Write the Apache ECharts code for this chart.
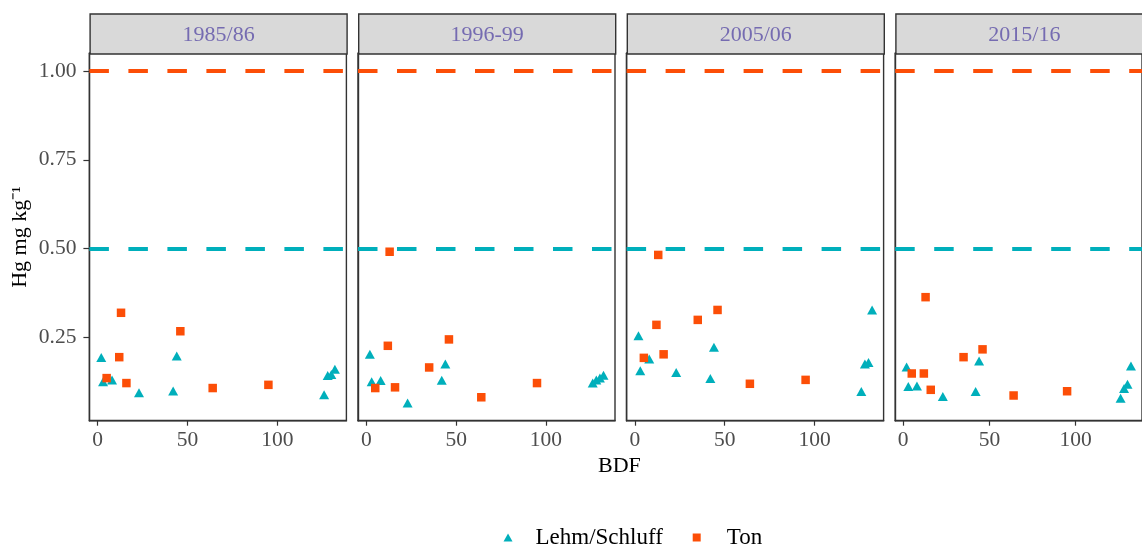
<!DOCTYPE html>
<html>
<head>
<meta charset="utf-8">
<script src="https://cdn.jsdelivr.net/npm/echarts@6/dist/echarts.min.js"></script>
<style>
  html, body { margin: 0; padding: 0; background: #ffffff; }
  #chart { width: 1142px; height: 548px; }
</style>
</head>
<body>
<div id="chart"></div>
<script>
// Sampling periods (one facet each)
const periods = ['1985/86', '1996-99', '2005/06', '2015/16'];

// BDF site numbers per soil texture group
const lehmSites = [2, 3, 8, 23, 42, 44, 126, 128, 130, 132];
const tonSites  = [5, 12, 13, 16, 35, 46, 64, 95];

// Hg contents (mg/kg), Lehm/Schluff sites
const lehmHg1985 = [0.193, 0.125, 0.130, 0.094, 0.099, 0.197, 0.088, 0.142, 0.145, 0.160];
const lehmHg1996 = [0.202, 0.125, 0.128, 0.065, 0.129, 0.175, 0.121, 0.130, 0.135, 0.143];
const lehmHg2005 = [0.254, 0.156, 0.189, 0.151, 0.134, 0.222, 0.097, 0.175, 0.179, 0.327];
const lehmHg2015 = [0.166, 0.111, 0.113, 0.083, 0.097, 0.183, 0.078, 0.106, 0.118, 0.169];

// Hg contents (mg/kg), Ton sites (null = no sample)
const tonHg1985 = [0.135, 0.194, 0.319, 0.121, null, 0.267, 0.107, 0.116];
const tonHg1996 = [0.107, 0.226, 0.491, 0.109, 0.165, 0.244, 0.081, 0.121];
const tonHg2005 = [0.192, 0.285, 0.482, 0.202, 0.299, 0.327, 0.119, 0.130];
const tonHg2015 = [0.148, 0.148, 0.363, 0.102, 0.194, 0.216, 0.086, 0.098];

// Precautionary values (Vorsorgewerte) per texture group
const limitTon  = 1.0;
const limitLehm = 0.5;

// Axis ticks
const xTicks = [0, 50, 100];
const yTicks = [0.25, 0.5, 0.75, 1.0];

const lehmByPeriod = [lehmHg1985, lehmHg1996, lehmHg2005, lehmHg2015];
const tonByPeriod  = [tonHg1985, tonHg1996, tonHg2005, tonHg2015];

// Styling / layout
const FONT = '"Liberation Serif", "Times New Roman", serif';
const COL_LEHM = '#00AFBB';
const COL_TON  = '#FC4E07';
const BORDER = '#333333';
const panelX = [89.4, 358.0, 626.6, 895.2];
const PANEL_W = 257;
const PANEL_TOP = 53.3;
const PANEL_H = 367.4;
const STRIP_TOP = 13.3;
const STRIP_H = 40;

const pairs = (xs, ys) => xs.map((x, i) => [x, ys[i]]).filter(p => p[1] != null);

const grid = [], xAxis = [], yAxis = [], series = [], graphic = [];

periods.forEach((p, i) => {
  grid.push({
    left: panelX[i], top: PANEL_TOP, width: PANEL_W, height: PANEL_H,
    show: true, borderColor: BORDER, borderWidth: 1.4, backgroundColor: '#ffffff',
    containLabel: false
  });
  xAxis.push({
    type: 'value', gridIndex: i, min: -4.6, max: 138.4,
    splitLine: { show: false },
    axisLine: { show: true, onZero: false, lineStyle: { color: BORDER, width: 1.4 } },
    axisTick: { show: true, customValues: xTicks, length: 5, lineStyle: { color: BORDER, width: 1.2 } },
    axisLabel: { show: true, customValues: xTicks, margin: 9, color: '#4D4D4D',
                 fontFamily: FONT, fontSize: 21.5 }
  });
  yAxis.push({
    type: 'value', gridIndex: i, min: 0.015, max: 1.05,
    splitLine: { show: false },
    axisLine: { show: true, onZero: false, lineStyle: { color: BORDER, width: 1.4 } },
    axisTick: { show: i === 0, customValues: yTicks, length: 6, lineStyle: { color: BORDER, width: 1.2 } },
    axisLabel: { show: i === 0, customValues: yTicks, margin: 13, color: '#4D4D4D',
                 fontFamily: FONT, fontSize: 21.5,
                 formatter: v => v.toFixed(2) },
    name: i === 0 ? 'Hg mg kg\u207B\u00B9' : '',
    nameLocation: 'middle', nameGap: 58, nameRotate: 90,
    nameTextStyle: { color: '#000000', fontFamily: FONT, fontSize: 22 }
  });

  series.push({
    name: 'Lehm/Schluff', type: 'scatter', xAxisIndex: i, yAxisIndex: i,
    symbol: 'triangle', symbolSize: [10, 9],
    itemStyle: { color: COL_LEHM, opacity: 1 },
    data: pairs(lehmSites, lehmByPeriod[i]),
    markLine: {
      silent: true, symbol: 'none', animation: false,
      label: { show: false },
      data: [
        { yAxis: limitTon,  lineStyle: { color: COL_TON,  width: 4.2, type: [19.5, 19.5] } },
        { yAxis: limitLehm, lineStyle: { color: COL_LEHM, width: 4.2, type: [19.5, 19.5] } }
      ]
    },
    z: 3
  });
  series.push({
    name: 'Ton', type: 'scatter', xAxisIndex: i, yAxisIndex: i,
    symbol: 'rect', symbolSize: 8.5,
    itemStyle: { color: COL_TON, opacity: 1 },
    data: pairs(tonSites, tonByPeriod[i]),
    z: 4
  });

  // facet strip
  graphic.push({
    type: 'group', left: panelX[i], top: STRIP_TOP,
    children: [
      { type: 'rect', shape: { x: 0, y: 0, width: PANEL_W, height: STRIP_H },
        style: { fill: '#D9D9D9', stroke: BORDER, lineWidth: 1.4 } },
      { type: 'text', x: PANEL_W / 2, y: STRIP_H / 2 + 1,
        style: { text: p, fill: '#756BB1', font: '22px ' + FONT,
                 textAlign: 'center', textVerticalAlign: 'middle' } }
    ]
  });
});

// shared x-axis title
graphic.push({
  type: 'text', left: 598, top: 455,
  style: { text: 'BDF', fill: '#000000', font: '22px ' + FONT }
});

const legendText = (gap) => ({
  color: '#000000', fontFamily: FONT, fontSize: 23, lineHeight: 24, padding: [8, 0, 0, gap]
});

const option = {
  animation: false,
  backgroundColor: '#ffffff',
  grid, xAxis, yAxis, series, graphic,
  legend: [
    { data: [{ name: 'Lehm/Schluff', icon: 'triangle' }], left: 503.5, top: 521.5, padding: 0,
      itemWidth: 9, itemHeight: 8, textStyle: legendText(18), selectedMode: false },
    { data: [{ name: 'Ton', icon: 'rect' }], left: 692.7, top: 521.5, padding: 0,
      itemWidth: 8, itemHeight: 8, textStyle: legendText(21), selectedMode: false }
  ]
};

const chart = echarts.init(document.getElementById('chart'), null, { renderer: 'canvas' });
chart.setOption(option);
</script>
</body>
</html>
